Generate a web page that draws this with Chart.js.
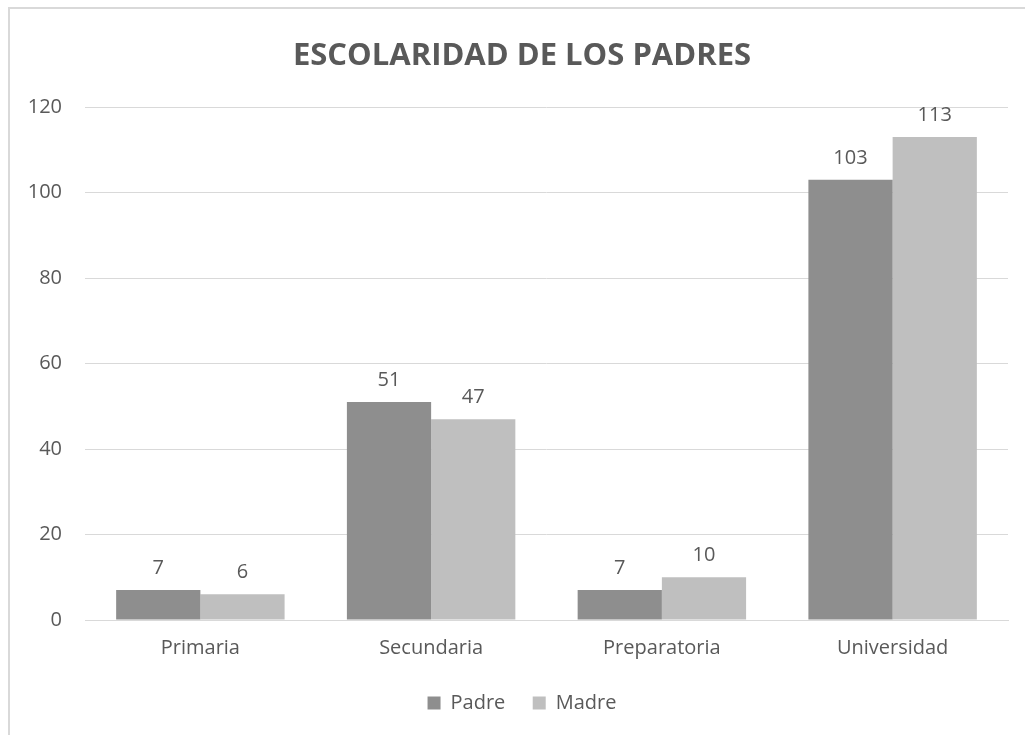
<!DOCTYPE html>
<html>
<head>
<meta charset="utf-8">
<script src="https://cdn.jsdelivr.net/npm/chart.js@4/dist/chart.umd.min.js"></script>
<style>
    html, body { margin: 0; padding: 0; background: #fff; overflow: hidden; }
    #frame { position: absolute; left: 8px; top: 7px; width: 1100px; height: 800px;
             border-left: 2px solid #d9d9d9; border-top: 2px solid #d9d9d9; }
    #wrap { position: absolute; left: 0; top: 0; width: 1025px; height: 735px; }
</style>
</head>
<body>
<div id="frame"></div>
<div id="wrap"><canvas id="escolaridadChart"></canvas></div>
<script>
const categories = ['Primaria', 'Secundaria', 'Preparatoria', 'Universidad'];
const padreValues = [7, 51, 7, 103];
const madreValues = [6, 47, 10, 113];
const yTicks = [0, 20, 40, 60, 80, 100, 120];

const textColor = '#595959';
const fontFamily = "'Open Sans', 'Noto Sans', sans-serif";

// labels above each bar
const barLabels = {
    id: 'barLabels',
    afterDatasetsDraw(chart) {
        const ctx = chart.ctx;
        ctx.save();
        ctx.fillStyle = textColor;
        ctx.font = '20px ' + fontFamily;
        ctx.textAlign = 'center';
        ctx.textBaseline = 'bottom';
        chart.data.datasets.forEach(function (ds, i) {
            chart.getDatasetMeta(i).data.forEach(function (bar, j) {
                ctx.fillText(ds.data[j], bar.x, bar.y - 12);
            });
        });
        ctx.restore();
    }
};

// title and legend are centred on the whole frame, not on the canvas
const shiftBlocks = {
    id: 'shiftBlocks',
    afterLayout(chart) {
        if (chart.titleBlock) chart.titleBlock.left = 36;
        if (chart.legend) chart.legend.left = 36;
    }
};

const ctx = document.getElementById('escolaridadChart').getContext('2d');
new Chart(ctx, {
    type: 'bar',
    data: {
        labels: categories,
        datasets: [
            { label: 'Padre', data: padreValues, backgroundColor: '#8e8e8e' },
            { label: 'Madre', data: madreValues, backgroundColor: '#bfbfbf' }
        ]
    },
    options: {
        responsive: true,
        maintainAspectRatio: false,
        animation: false,
        datasets: {
            bar: { categoryPercentage: 0.73, barPercentage: 1.0 }
        },
        layout: {
            padding: { left: 0, right: 17, top: 0, bottom: 12 }
        },
        plugins: {
            title: {
                display: true,
                text: 'ESCOLARIDAD DE LOS PADRES',
                color: textColor,
                font: { family: fontFamily, size: 31, weight: 'bold' },
                padding: { top: 38, bottom: 32 }
            },
            legend: {
                position: 'bottom',
                labels: {
                    color: textColor,
                    font: { family: fontFamily, size: 20 },
                    boxWidth: 13,
                    boxHeight: 13,
                    padding: 17,
                    generateLabels: function (chart) {
                        const items = Chart.defaults.plugins.legend.labels.generateLabels(chart);
                        items[0].text += '  ';
                        return items;
                    }
                }
            },
            tooltip: { enabled: false }
        },
        scales: {
            x: {
                grid: { display: false, drawTicks: false },
                border: { color: '#d9d9d9' },
                ticks: { color: textColor, font: { family: fontFamily, size: 20 }, padding: 16 }
            },
            y: {
                min: 0,
                max: 120,
                afterBuildTicks: function (scale) {
                    scale.ticks = yTicks.map(function (v) { return { value: v }; });
                },
                afterFit: function (scale) { scale.width = 85; },
                grid: { color: '#d9d9d9', drawTicks: false },
                border: { display: false },
                ticks: { color: textColor, font: { family: fontFamily, size: 20 }, padding: 23 }
            }
        }
    },
    plugins: [barLabels, shiftBlocks]
});
</script>
</body>
</html>
